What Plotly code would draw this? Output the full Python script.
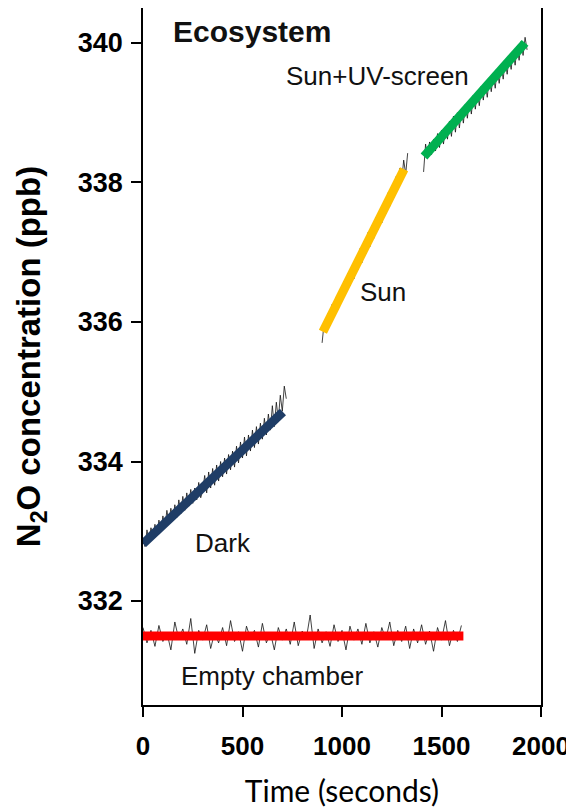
import plotly.graph_objects as go

# ---------------- data ----------------
x_ticks = [0, 500, 1000, 1500, 2000]
y_ticks = [332, 334, 336, 338, 340]

# raw N2O traces (ppb)
empty_t = list(range(0, 1601, 20))
empty_y = [331.62, 331.40, 331.58, 331.35, 331.65, 331.42, 331.55, 331.30, 331.70, 331.45,
           331.60, 331.38, 331.75, 331.25, 331.58, 331.44, 331.66, 331.32, 331.55, 331.40,
           331.62, 331.36, 331.72, 331.42, 331.56, 331.28, 331.64, 331.46, 331.58, 331.34,
           331.68, 331.40, 331.55, 331.30, 331.62, 331.44, 331.60, 331.38, 331.70, 331.36,
           331.57, 331.45, 331.80, 331.32, 331.60, 331.40, 331.56, 331.35, 331.66, 331.42,
           331.58, 331.30, 331.64, 331.44, 331.60, 331.38, 331.68, 331.40, 331.56, 331.34,
           331.62, 331.45, 331.70, 331.36, 331.58, 331.42, 331.64, 331.32, 331.60, 331.40,
           331.66, 331.38, 331.57, 331.28, 331.62, 331.44, 331.72, 331.36, 331.58, 331.42,
           331.65]

dark_t = list(range(0, 721, 10))
dark_y = [332.90, 332.78, 333.02, 332.86, 333.05, 332.92, 333.10, 332.95, 333.16, 333.00,
          333.22, 333.05, 333.30, 333.12, 333.33, 333.15, 333.38, 333.20, 333.45, 333.25,
          333.50, 333.30, 333.55, 333.36, 333.60, 333.40, 333.62, 333.45, 333.70, 333.48,
          333.58, 333.80, 333.55, 333.85, 333.62, 333.90, 333.66, 333.95, 333.72, 334.00,
          333.78, 334.05, 333.82, 334.10, 333.88, 334.15, 333.92, 334.22, 333.98, 334.28,
          334.05, 334.35, 334.08, 334.38, 334.15, 334.45, 334.20, 334.50, 334.25, 334.55,
          334.32, 334.62, 334.38, 334.68, 334.45, 334.80, 334.50, 334.85, 334.60, 334.95,
          334.72, 335.08, 334.90]

sun_t = list(range(900, 1331, 10))
sun_y = [335.70, 335.98, 335.85, 336.12, 335.95, 336.25, 336.08, 336.35, 336.18, 336.46,
         336.30, 336.58, 336.42, 336.70, 336.52, 336.80, 336.62, 336.92, 336.75, 337.05,
         336.85, 337.15, 336.98, 337.28, 337.08, 337.38, 337.20, 337.50, 337.32, 337.60,
         337.42, 337.72, 337.55, 337.85, 337.66, 337.95, 337.78, 338.08, 337.90, 338.20,
         338.02, 338.32, 338.12, 338.42]

uv_t = list(range(1410, 1931, 10))
uv_y = [338.15, 338.55, 338.35, 338.58, 338.40, 338.62, 338.45, 338.70, 338.50, 338.75,
        338.55, 338.80, 338.62, 338.88, 338.66, 338.95, 338.72, 339.00, 338.78, 339.05,
        338.85, 339.12, 338.92, 339.18, 338.98, 339.25, 339.05, 339.30, 339.10, 339.38,
        339.18, 339.42, 339.22, 339.50, 339.30, 339.55, 339.35, 339.62, 339.42, 339.68,
        339.48, 339.75, 339.55, 339.80, 339.62, 339.88, 339.68, 339.95, 339.75, 340.02,
        339.82, 340.08, 339.90]

# fitted regression lines (endpoints)
empty_fit_t = [0, 1610]
empty_fit_y = [331.50, 331.50]
dark_fit_t = [0, 703]
dark_fit_y = [332.82, 334.71]
sun_fit_t = [904, 1312]
sun_fit_y = [335.86, 338.19]
uv_fit_t = [1412, 1920]
uv_fit_y = [338.37, 340.00]

# ---------------- figure ----------------
FONT = "Liberation Sans, Arial, sans-serif"
fig = go.Figure()

for t, y in [(empty_t, empty_y), (dark_t, dark_y), (sun_t, sun_y), (uv_t, uv_y)]:
    fig.add_trace(go.Scatter(x=t, y=y, mode="lines",
                             line=dict(color="rgba(20,20,20,0.8)", width=1),
                             showlegend=False, hoverinfo="skip"))

for t, y, c in [(empty_fit_t, empty_fit_y, "#FF0000"),
                (dark_fit_t, dark_fit_y, "#1F3D66"),
                (sun_fit_t, sun_fit_y, "#FFC000"),
                (uv_fit_t, uv_fit_y, "#00B050")]:
    fig.add_trace(go.Scatter(x=t, y=y, mode="lines",
                             line=dict(color=c, width=9),
                             showlegend=False))

labels = [
    ("Ecosystem", 141, 340.16, 30, "bold"),
    ("Sun+UV-screen", 710, 339.53, 26, "normal"),
    ("Sun", 1078, 336.43, 26, "normal"),
    ("Dark", 249, 332.83, 26, "normal"),
    ("Empty chamber", 179, 330.92, 26, "normal"),
]
for txt, x, y, s, w in labels:
    fig.add_annotation(x=x, y=y, xref="x", yref="y", text=txt, showarrow=False,
                       xanchor="left", yanchor="middle",
                       font=dict(family=FONT, size=s, color="#111111", weight=w))

fig.update_xaxes(range=[0, 2000], tickvals=x_ticks, ticktext=[str(v) for v in x_ticks],
                 automargin=False,
                 showline=True, mirror=True, linecolor="black", linewidth=1.5,
                 ticks="outside", ticklen=10, tickwidth=1.5, tickcolor="black",
                 showgrid=False, zeroline=False, ticklabelstandoff=7,
                 tickfont=dict(family=FONT, size=26, color="black", weight="bold"),
                 title=dict(text="Time (seconds)", standoff=23,
                            font=dict(family="Lato, Open Sans, sans-serif", size=30, color="black")))
fig.update_yaxes(range=[330.51, 340.50], tickvals=y_ticks, ticktext=[str(v) for v in y_ticks],
                 automargin=False,
                 showline=True, mirror=True, linecolor="black", linewidth=1.5,
                 ticks="outside", ticklen=10, tickwidth=1.5, tickcolor="black",
                 showgrid=False, zeroline=False, ticklabelstandoff=3,
                 tickfont=dict(family=FONT, size=27, color="black", weight="bold"),
                 title=dict(text="N<sub>2</sub>O concentration (ppb)", standoff=27,
                            font=dict(family=FONT, size=33, color="black", weight="bold")))

# page body adds an 8px margin, so the figure is offset by 8px inside the window
fig.update_layout(width=566, height=800, margin=dict(l=135, r=33, t=0, b=103),
                  plot_bgcolor="white", paper_bgcolor="white", showlegend=False)

fig.write_html("out.html")
